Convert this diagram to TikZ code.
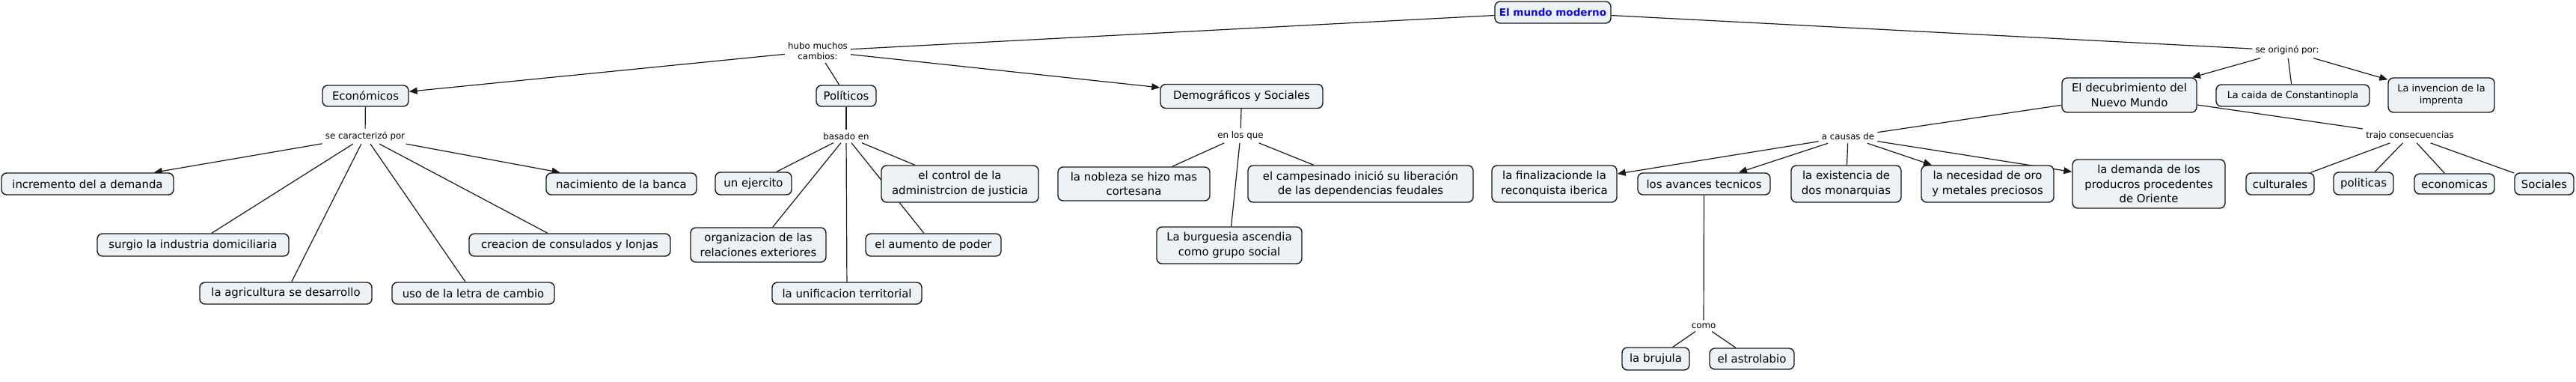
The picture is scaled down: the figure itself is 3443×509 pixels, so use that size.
\documentclass[tikz,border=0pt]{standalone}
\usepackage{fontspec}
\setmainfont{DejaVu Sans}
\usetikzlibrary{arrows.meta,backgrounds}
\definecolor{boxfill}{RGB}{236,242,245}
\definecolor{linecol}{RGB}{25,25,25}
\definecolor{titleblue}{RGB}{10,10,225}
\newcommand{\boxfont}{\fontsize{14.9}{19.5}\selectfont}
\newcommand{\smallboxfont}{\fontsize{12.9}{16}\selectfont}
\newcommand{\labfont}{\fontsize{11.8}{14.5}\selectfont}
\tikzset{
  box/.style={draw=linecol, fill=boxfill, rounded corners=7pt, line width=1.4pt, align=center, inner sep=1pt, font=\boxfont},
  lab/.style={font=\labfont, inner sep=4pt, align=center, text=black},
  con/.style={line width=1.2pt, draw=linecol},
  arr/.style={con, -{Triangle[length=11pt,width=9pt]}},
}
\newcommand{\bx}[6]{\node[box, minimum width=#4, minimum height=#5, #6] (#1) at (#2,#3)}
\begin{document}
\begin{tikzpicture}[x=1pt,y=-1pt]
\useasboundingbox (0,0) rectangle (3443,509);
% title
\node[box, minimum width=155, minimum height=29, font=\fontsize{13.5}{16}\bfseries\selectfont, text=titleblue] (title) at (2075.5,16.5) {El mundo moderno};
% labels
\node[lab] (hubo) at (1093,68) {hubo muchos\\cambios:};
\node[lab] (secar) at (488,182) {se caracterizó por};
\node[lab] (basado) at (1131,182) {basado en};
\node[lab] (enlos) at (1658,181) {en los que};
\node[lab] (orig) at (3057,67.5) {se originó por:};
\node[lab] (acausas) at (2470,182.5) {a causas de};
\node[lab] (trajo) at (3221,181) {trajo consecuencias};
\node[lab] (como) at (2277,435) {como};
% level 1
\bx{econ}{488.5}{128}{115}{28}{}{Económicos};
\bx{poli}{1131}{128}{80}{28}{}{Políticos};
\bx{demo}{1659.5}{128.5}{217}{32}{}{Demográficos y Sociales};
\bx{decub}{2846}{127}{180}{46}{}{El decubrimiento del\\Nuevo Mundo};
\bx{caida}{3064.5}{127.5}{205}{29}{font=\smallboxfont}{La caida de Constantinopla};
\bx{inven}{3263}{127}{142}{46}{font=\smallboxfont}{La invencion de la\\imprenta};
% economicos
\bx{incr}{117}{245.5}{230}{29}{}{incremento del a demanda};
\bx{naci}{830.5}{245.5}{201}{29}{}{nacimiento de la banca};
\bx{surg}{258}{327}{256}{30}{}{surgio la industria domiciliaria};
\bx{crea}{761.5}{327}{269}{30}{}{creacion de consulados y lonjas};
\bx{agri}{382}{391.5}{230}{29}{}{la agricultura se desarrollo};
\bx{uso}{632.5}{391.5}{217}{29}{}{uso de la letra de cambio};
% politicos
\bx{ejer}{1007}{245}{102}{30}{}{un ejercito};
\bx{ctrl}{1283}{245.5}{210}{49}{}{el control de la\\administrcion de justicia};
\bx{orga}{1013.5}{327}{181}{46}{}{organizacion de las\\relaciones exteriores};
\bx{aume}{1247.5}{327}{181}{30}{}{el aumento de poder};
\bx{unif}{1132}{391.5}{200}{29}{}{la unificacion territorial};
% demograficos
\bx{nobl}{1515.5}{245.5}{203}{45}{}{la nobleza se hizo mas\\cortesana};
\bx{camp}{1818.5}{245.5}{301}{49}{}{el campesinado inició su liberación\\de las dependencias feudales};
\bx{burg}{1643}{327.5}{194}{49}{}{La burguesia ascendia\\como grupo social};
% a causas de
\bx{fina}{2077.5}{245.5}{167}{49}{}{la finalizacionde la\\reconquista iberica};
\bx{avan}{2277.5}{245.5}{177}{29}{}{los avances tecnicos};
\bx{exis}{2467.5}{245.5}{147}{49}{}{la existencia de\\dos monarquias};
\bx{nece}{2656.5}{245.5}{177}{49}{}{la necesidad de oro\\y metales preciosos};
\bx{dema}{2872}{245.5}{204}{65}{}{la demanda de los\\producros procedentes\\de Oriente};
% consecuencias
\bx{cult}{3047.5}{245.5}{91}{29}{}{culturales};
\bx{poli2}{3159}{245}{80}{30}{}{politicas};
\bx{econ2}{3280.5}{245.5}{107}{27}{}{economicas};
\bx{soci}{3400.5}{245.5}{79}{29}{}{Sociales};
% como
\bx{bruj}{2213}{479}{90}{30}{}{la brujula};
\bx{astr}{2341.5}{479}{113}{28}{}{el astrolabio};
% connectors
\begin{pgfonlayer}{background}
\draw[con] (title) -- (hubo);
\draw[con] (title) -- (orig);
\draw[arr] (hubo) -- (econ);
\draw[con] (hubo) -- (poli);
\draw[arr] (hubo) -- (demo);
\draw[con] (econ) -- (secar);
\draw[arr] (secar) -- (incr);
\draw[arr] (secar) -- (naci);
\draw[con] (secar) -- (surg);
\draw[con] (secar) -- (agri);
\draw[con] (secar) -- (uso);
\draw[con] (secar) -- (crea);
\draw[con] (poli) -- (basado);
\draw[con] (basado) -- (ejer);
\draw[con] (basado) -- (orga);
\draw[con] (basado) -- (unif);
\draw[con] (basado) -- (aume);
\draw[con] (basado) -- (ctrl);
\draw[con] (demo) -- (enlos);
\draw[con] (enlos) -- (nobl);
\draw[con] (enlos) -- (burg);
\draw[con] (enlos) -- (camp);
\draw[arr] (orig) -- (decub);
\draw[con] (orig) -- (caida);
\draw[arr] (orig) -- (inven);
\draw[con] (decub) -- (acausas);
\draw[con] (decub) -- (trajo);
\draw[arr] (acausas) -- (fina);
\draw[arr] (acausas) -- (avan);
\draw[con] (acausas) -- (exis);
\draw[arr] (acausas) -- (nece);
\draw[arr] (acausas) -- (dema);
\draw[con] (trajo) -- (cult);
\draw[con] (trajo) -- (poli2);
\draw[con] (trajo) -- (econ2);
\draw[con] (trajo) -- (soci);
\draw[con] (avan) -- (como);
\draw[con] (como) -- (bruj);
\draw[con] (como) -- (astr);
\end{pgfonlayer}
\end{tikzpicture}
\end{document}
